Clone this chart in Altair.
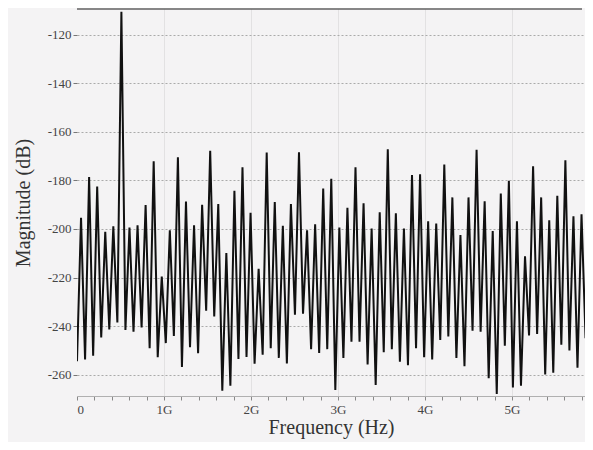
import altair as alt
import pandas as pd

# Spectrum bins (GHz spacing) and magnitudes
freq_step_ghz = 0.0464
magnitude_db = [
    -254.5, -195.4, -253.8, -178.6, -252.2, -182.5, -244.7, -201.2, -241.4, -198.9,
    -238.5, -110.5, -241.6, -199.4, -242.3, -198.5, -240.6, -190.1, -249.1, -172.1,
    -252.8, -219.6, -247.0, -200.5, -244.1, -170.5, -256.8, -188.7, -248.7, -198.5,
    -251.2, -190.0, -233.7, -167.8, -236.0, -189.7, -266.6, -209.9, -264.6, -184.3,
    -253.5, -174.6, -252.7, -193.3, -255.5, -216.4, -251.8, -168.5, -249.1, -188.9,
    -253.1, -198.7, -255.4, -189.7, -235.3, -168.4, -234.9, -200.5, -249.5, -198.1,
    -251.1, -183.3, -249.5, -179.3, -266.3, -199.4, -253.1, -191.3, -246.4, -174.6,
    -246.4, -189.4, -255.8, -199.8, -264.3, -193.1, -250.8, -167.2, -249.5, -193.5,
    -254.7, -199.8, -256.1, -177.8, -249.1, -177.5, -252.8, -196.8, -253.8, -197.8,
    -245.7, -173.5, -244.3, -187.0, -253.1, -202.5, -256.5, -187.0, -241.9, -167.4,
    -242.3, -188.6, -261.5, -200.9, -268.0, -185.4, -248.1, -180.2, -265.3, -196.8,
    -264.6, -211.3, -243.9, -174.2, -243.3, -187.0, -259.9, -196.4, -259.2, -186.3,
    -247.7, -171.7, -250.0, -194.8, -257.2, -194.0, -245.0,
]
freq_ghz = [round(i * freq_step_ghz, 4) for i in range(len(magnitude_db))]

x_tick_values = [round(i * 0.2, 1) for i in range(0, 30)]
y_tick_values = [-260, -240, -220, -200, -180, -160, -140, -120]

df = pd.DataFrame({"freq": freq_ghz, "mag": magnitude_db})

W, H = 508, 387
FONT = "Liberation Serif"
is_major = "abs(datum.value - round(datum.value)) < 0.001"

line = alt.Chart(df).mark_line(color="#111111", strokeWidth=2, clip=True).encode(
    x=alt.X(
        "freq:Q",
        title="Frequency (Hz)",
        scale=alt.Scale(domain=[0, 5.84], nice=False, zero=False),
        axis=alt.Axis(
            values=x_tick_values,
            labelExpr=f"{is_major} ? (datum.value == 0 ? '0' : round(datum.value) + 'G') : ''",
            grid=True,
            gridColor="#e2e1e2",
            gridWidth=1,
            gridOpacity={"condition": {"test": f"{is_major} && datum.value > 0", "value": 1}, "value": 0},
            domainColor="#b0b0b0",
            tickColor="#888888",
            tickSize=4,
            labelFont=FONT,
            labelFontSize=13,
            labelColor="#444444",
            labelPadding=3,
            labelOverlap=False,
            titleFont=FONT,
            titleFontSize=20,
            titleFontWeight="normal",
            titleColor="#333333",
            titlePadding=1,
        ),
    ),
    y=alt.Y(
        "mag:Q",
        title="Magnitude (dB)",
        scale=alt.Scale(domain=[-268.8, -109.4], nice=False, zero=False),
        axis=alt.Axis(
            values=y_tick_values,
            labelExpr="'' + datum.value",
            grid=True,
            gridColor="#aaaaaa",
            gridDash=[2, 2],
            gridWidth=1,
            domain=False,
            tickColor="#777777",
            tickSize=4,
            labelFont=FONT,
            labelFontSize=13,
            labelColor="#444444",
            labelPadding=2,
            titleFont=FONT,
            titleFontSize=20,
            titleFontWeight="normal",
            titleColor="#333333",
            titlePadding=14,
        ),
    ),
)

top_border = alt.Chart(pd.DataFrame({"k": [0]})).mark_rule(color="#1a1a1a", strokeWidth=1).encode(
    x=alt.value(0), x2=alt.value(W - 3), y=alt.value(0)
)

chart = (
    alt.layer(line, top_border)
    .properties(
        width=W,
        height=H,
        autosize=alt.AutoSizeParams(type="none"),
        padding={"left": 69, "top": 1, "right": 0, "bottom": 46},
        background="#f4f3f4",
    )
    .configure(font=FONT)
    .configure_axis(labelFont=FONT, titleFont=FONT)
    .configure_view(stroke=None)
)

chart.save("out.html", embed_options={"renderer": "svg", "actions": False})
